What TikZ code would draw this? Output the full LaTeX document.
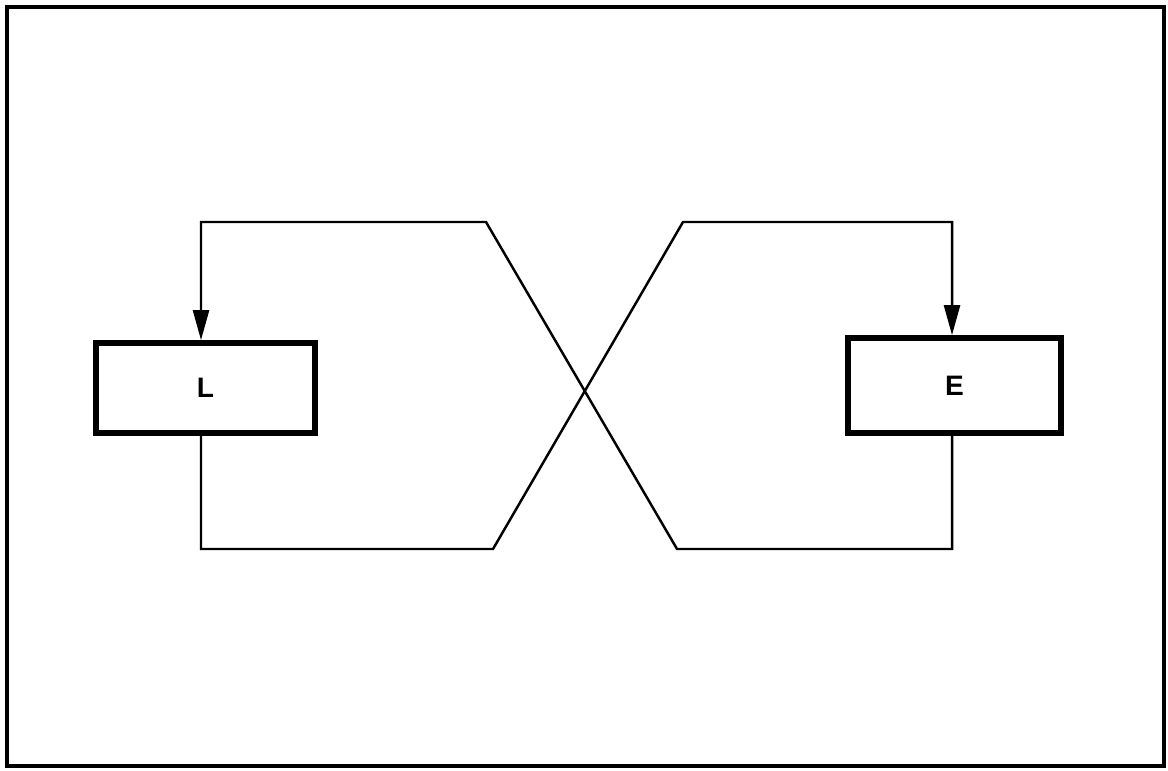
\documentclass[tikz,border=0pt]{standalone}
\usepackage{fontspec}
\setsansfont{Liberation Sans}
\usetikzlibrary{arrows.meta}
\begin{document}
\begin{tikzpicture}[x=0.01cm,y=-0.01cm,
  frame/.style={line width=1.1pt},
  blk/.style={draw,line width=1.6pt,rectangle,minimum width=2.19cm,minimum height=0.9cm,inner sep=0pt,font=\sffamily\bfseries\footnotesize},
  wire/.style={line width=0.7pt,line join=miter},
  arr/.style={wire,-{Triangle[length=0.3cm,width=0.16cm]}}]
\useasboundingbox (0,0) rectangle (1168,771);
\draw[frame] (7,7) rectangle (1164,766);
\node[blk] (L) at (205.5,388) {L};
\node[blk] (E) at (954.5,385.5) [minimum width=2.13cm,minimum height=0.95cm] {E};
\coordinate (xL) at (201,0);
\coordinate (xE) at (952,0);
\coordinate (a1) at (201,549);
\coordinate (a2) at (493,549);
\coordinate (a3) at (683,222);
\coordinate (a4) at (952,222);
\coordinate (b1) at (952,549);
\coordinate (b2) at (677,549);
\coordinate (b3) at (486,222);
\coordinate (b4) at (201,222);
\draw[arr] (L.south -| xL) -- (a1) -- (a2) -- (a3) -- (a4) -- (E.north -| xE);
\draw[arr] (E.south -| xE) -- (b1) -- (b2) -- (b3) -- (b4) -- (L.north -| xL);
\end{tikzpicture}
\end{document}
